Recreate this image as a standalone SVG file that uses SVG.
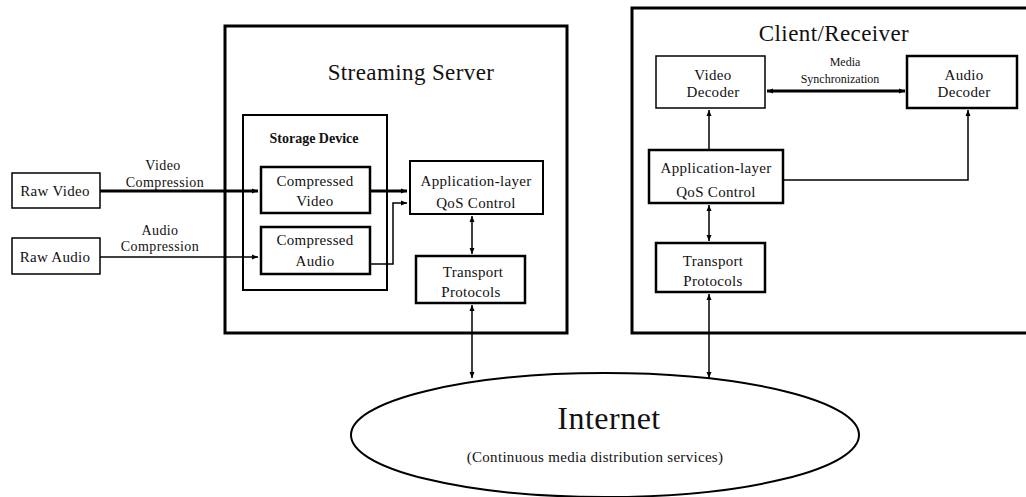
<svg xmlns="http://www.w3.org/2000/svg" width="1026" height="497" viewBox="0 0 1026 497">
<style>
text{font-family:"Liberation Serif","Times New Roman",serif;fill:#111;text-anchor:middle}
.box{fill:#fff;stroke:#000;stroke-width:1.5}
.tbox{fill:#fff;stroke:#000;stroke-width:2.5}
.big{fill:none;stroke:#000;stroke-width:3}
.lbl{font-size:15px;letter-spacing:0.3px}
.sm{font-size:14px;letter-spacing:0.4px}
.ln{fill:none;stroke:#000;stroke-width:1.5}
.thk{fill:none;stroke:#000;stroke-width:3}
</style>
<defs>
<marker id="ah" viewBox="0 0 6 6" refX="6" refY="3" markerWidth="6" markerHeight="6" markerUnits="userSpaceOnUse" orient="auto-start-reverse">
<path d="M0,0.5 L6,3 L0,5.5 z" fill="#000"/>
</marker>
</defs>
<rect width="1026" height="497" fill="#fff"/>
<g id="server">
<rect class="big" x="225" y="26" width="342" height="307"/>
<text x="411" y="80" style="font-size:23px;letter-spacing:0.4px">Streaming Server</text>
</g>
<g id="storage">
<rect class="box" x="243" y="115" width="144" height="175" style="stroke-width:2"/>
<text x="314" y="143" style="font-size:14px;font-weight:bold">Storage Device</text>
</g>
<g id="rawvideo">
<rect class="box" x="12" y="173" width="88" height="35"/>
<text class="lbl" x="55" y="196">Raw Video</text>
</g>
<g id="rawaudio">
<rect class="box" x="12" y="238" width="88" height="36"/>
<text class="lbl" x="55" y="262">Raw Audio</text>
</g>
<g id="cvideo">
<rect class="tbox" x="261" y="167" width="109" height="46"/>
<text class="lbl" x="315" y="186">Compressed</text>
<text class="lbl" x="315" y="206">Video</text>
</g>
<g id="caudio">
<rect class="tbox" x="261" y="227" width="109" height="47"/>
<text class="lbl" x="315" y="245">Compressed</text>
<text class="lbl" x="315" y="266">Audio</text>
</g>
<g id="sqos">
<rect class="box" x="410" y="161" width="133" height="53" style="stroke-width:2"/>
<text class="lbl" x="476" y="186">Application-layer</text>
<text class="lbl" x="476" y="208">QoS Control</text>
</g>
<g id="strans">
<rect class="tbox" x="416" y="256" width="109" height="47"/>
<text class="lbl" x="473" y="277">Transport</text>
<text class="lbl" x="471" y="297">Protocols</text>
</g>
<g id="client">
<rect class="big" x="632" y="8" width="400" height="325"/>
<text x="834" y="41" style="font-size:23px;letter-spacing:0.4px">Client/Receiver</text>
</g>
<g id="vdec">
<rect class="box" x="656" y="56" width="109" height="52"/>
<text class="lbl" x="713" y="80">Video</text>
<text class="lbl" x="713" y="97">Decoder</text>
</g>
<g id="adec">
<rect class="tbox" x="907" y="56" width="110" height="52"/>
<text class="lbl" x="964" y="80">Audio</text>
<text class="lbl" x="964" y="97">Decoder</text>
</g>
<g id="cqos">
<rect class="tbox" x="649" y="150" width="134" height="53"/>
<text class="lbl" x="716" y="173">Application-layer</text>
<text class="lbl" x="716" y="197">QoS Control</text>
</g>
<g id="ctrans">
<rect class="tbox" x="656" y="243" width="109" height="49"/>
<text class="lbl" x="713" y="266">Transport</text>
<text class="lbl" x="713" y="286">Protocols</text>
</g>
<g id="internet">
<ellipse cx="605" cy="435" rx="254" ry="62" fill="#fff" stroke="#000" stroke-width="2"/>
<text x="609" y="429" style="font-size:32px;letter-spacing:0.5px">Internet</text>
<text x="595" y="462" style="font-size:15px;letter-spacing:0.3px">(Continuous media distribution services)</text>
</g>
<g id="connectors">
<path class="thk" d="M100,191 H258" marker-end="url(#ah)"/>
<path class="ln" d="M100,257 H258" marker-end="url(#ah)"/>
<path class="thk" d="M370,191 H407" marker-end="url(#ah)"/>
<path class="ln" d="M370,264 H393 V203 H407" marker-end="url(#ah)"/>
<path class="ln" d="M472,216 V254" marker-start="url(#ah)" marker-end="url(#ah)"/>
<path class="ln" d="M472,305 V378" marker-start="url(#ah)" marker-end="url(#ah)"/>
<path class="thk" d="M767,91 H905" marker-start="url(#ah)" marker-end="url(#ah)"/>
<path class="ln" d="M709,150 V110" marker-end="url(#ah)"/>
<path class="ln" d="M783,180 H968 V110" marker-end="url(#ah)"/>
<path class="ln" d="M709,205 V241" marker-start="url(#ah)" marker-end="url(#ah)"/>
<path class="ln" d="M709,294 V378" marker-start="url(#ah)" marker-end="url(#ah)"/>
</g>
<g id="labels">
<text class="sm" x="163" y="170">Video</text>
<text class="sm" x="165" y="187">Compression</text>
<text class="sm" x="160" y="235">Audio</text>
<text class="sm" x="160" y="251">Compression</text>
<text x="845" y="66" style="font-size:12px">Media</text>
<text x="840" y="83" style="font-size:12px">Synchronization</text>
</g>
</svg>
